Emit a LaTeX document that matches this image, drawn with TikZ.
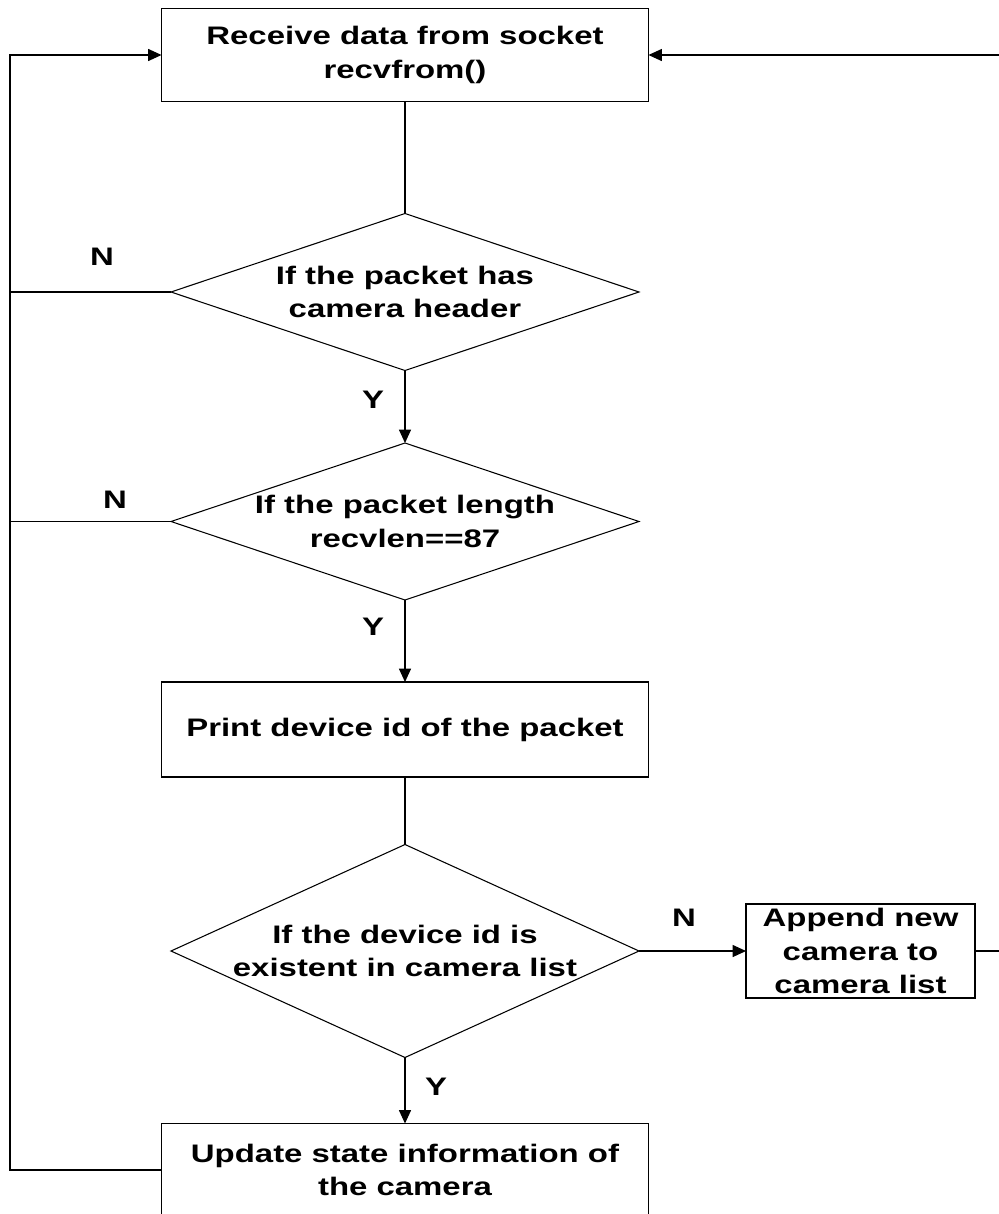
\documentclass[tikz,border=0pt]{standalone}
\usepackage{fontspec}
\setmainfont{Liberation Sans}
\newfontfamily\widesans[FakeStretch=1.3]{Liberation Sans}
\usetikzlibrary{arrows.meta,shapes.geometric}
\begin{document}
\begin{tikzpicture}[x=0.75pt,y=-0.75pt,
  font=\widesans\fontsize{19}{25}\selectfont\bfseries,
  line width=0.8pt,
  stepbox/.style={draw, rectangle, inner sep=0pt, outer sep=0pt, align=center,
    minimum width=365.25pt, minimum height=69.75pt},
  smallbox/.style={draw, rectangle, inner sep=0pt, outer sep=0pt, align=center,
    minimum width=171.75pt, minimum height=70.5pt},
  decision/.style={draw, diamond, inner sep=0pt, outer sep=0pt,
    minimum width=351pt},
  dtext/.style={align=center, inner sep=0pt},
  lbl/.style={inner sep=0pt},
  flow/.style={-{Triangle[length=10pt,width=9pt]}},
  plain/.style={-}]
  \useasboundingbox (0,0) rectangle (999,1214);
  \clip (0,0) rectangle (999,1214);

  % process steps
  \node[stepbox] (recv) at (405,55) {Receive data from socket\\recvfrom()};
  \node[decision, minimum height=117.75pt] (hdr) at (405,292) {};
  \node[dtext] (hdrt) at (hdr) {If the packet has\\camera header};
  \node[decision, minimum height=117.75pt] (len) at (405,521.5) {};
  \node[dtext] (lent) at (len) {If the packet length\\recvlen==87};
  \node[stepbox, minimum height=71.25pt] (print) at (405,729.5) {Print device id of the packet};
  \node[decision, minimum height=159.75pt] (exist) at (405,951) {};
  \node[dtext] (existt) at (exist) {If the device id is\\existent in camera list};
  \node[smallbox] (append) at (860.5,951) {Append new\\camera to\\camera list};
  \node[stepbox] (update) at (405,1170) {Update state information of\\the camera};

  % loop corners
  \coordinate (lt) at (10,55);
  \coordinate (rt) at (1020,55);
  \coordinate (rb) at (1020,951);

  % branch labels
  \node[lbl] (n1) at (102,257) {N};
  \node[lbl] (y1) at (373,400) {Y};
  \node[lbl] (n2) at (115,500) {N};
  \node[lbl] (y2) at (373,627) {Y};
  \node[lbl] (n3) at (684,918) {N};
  \node[lbl] (y3) at (436,1087) {Y};

  % main path
  \draw[plain] (recv.south) -- (hdr.north);
  \draw[flow] (hdr.south) -- (len.north);
  \draw[flow] (len.south) -- (print.north);
  \draw[plain] (print.south) -- (exist.north);
  \draw[flow] (exist.south) -- (update.north);
  \draw[flow] (exist.east) -- (append.west);

  % return loops
  \draw[flow] (update.west) -| (lt) -- (recv.west);
  \draw[plain] (hdr.west) -- (10,292);
  \draw[plain] (len.west) -- (10,521.5);
  \draw[flow] (append.east) -- (rb) -- (rt) -- (recv.east);
\end{tikzpicture}
\end{document}
